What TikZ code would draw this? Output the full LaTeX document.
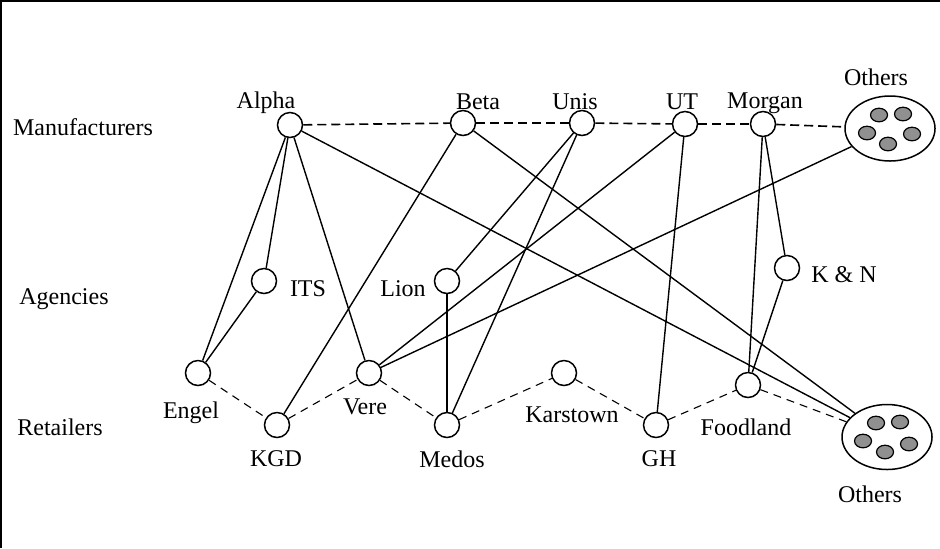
\documentclass[tikz,border=0pt]{standalone}
\usepackage{fontspec}
\setmainfont{Liberation Serif}
\usetikzlibrary{shapes.geometric}
\definecolor{memberfill}{RGB}{144,144,144}
\tikzset{
  every node/.style={font=\fontsize{12}{14}\selectfont},
  actor/.style={circle,draw,line width=0.75pt,minimum size=12.5pt,inner sep=0pt},
  group/.style={ellipse,draw,line width=0.75pt,minimum width=45pt,minimum height=32.5pt,inner sep=0pt},
  member/.style={ellipse,draw,line width=0.6pt,fill=memberfill,minimum width=8.5pt,minimum height=6.8pt,inner sep=0pt},
  lbl/.style={inner sep=0pt},
  link/.style={line width=0.7pt},
  peer/.style={line width=0.8pt,dash pattern=on 4.5pt off 2.5pt},
  chain/.style={line width=0.55pt,dash pattern=on 4pt off 3pt},
}
\begin{document}
\begin{tikzpicture}[x=0.5pt,y=-0.5pt]
\useasboundingbox (0,0) rectangle (940,548);
\draw[line width=1pt] (1,548) -- (1,1) -- (940,1);
% level labels
\node[lbl] (lm) at (83,127) {Manufacturers};
\node[lbl] (la) at (64,299) {Agencies};
\node[lbl] (lr) at (60,427) {Retailers};
% manufacturers
\node[actor] (alpha) at (290,125) {};
\node[actor] (beta) at (463,123) {};
\node[actor] (unis) at (582,123) {};
\node[actor] (ut) at (685,124) {};
\node[actor] (morgan) at (763,124) {};
\node[group] (otop) at (890,128.5) {};
\node[member] (ot1) at (879,115) {};
\node[member] (ot2) at (903,114) {};
\node[member] (ot3) at (867,133) {};
\node[member] (ot4) at (912,134) {};
\node[member] (ot5) at (888,144) {};
\node[lbl] (talpha) at (266,103) {Alpha};
\node[lbl] (tbeta) at (478,102) {Beta};
\node[lbl] (tunis) at (575,102) {Unis};
\node[lbl] (tut) at (682,102) {UT};
\node[lbl] (tmorgan) at (765,103) {Morgan};
\node[lbl] (totop) at (876,77) {Others};
% agencies
\node[actor] (its) at (264,281) {};
\node[actor] (lion) at (447,281) {};
\node[actor] (kn) at (787,268) {};
\node[lbl] (tits) at (308,289) {ITS};
\node[lbl] (tlion) at (403,289) {Lion};
\node[lbl] (tkn) at (844,275) {K \& N};
% retailers
\node[actor] (engel) at (198,373) {};
\node[actor] (kgd) at (277,425) {};
\node[actor] (vere) at (369,373) {};
\node[actor] (medos) at (447,425) {};
\node[actor] (karstown) at (564,373) {};
\node[actor] (gh) at (656,425) {};
\node[actor] (foodland) at (748,385) {};
\node[group] (obot) at (887,437) {};
\node[member] (ob1) at (876,423) {};
\node[member] (ob2) at (900,422) {};
\node[member] (ob3) at (863,441) {};
\node[member] (ob4) at (909,444) {};
\node[member] (ob5) at (885,452) {};
\node[lbl] (tengel) at (191,413) {Engel};
\node[lbl] (tkgd) at (276,459) {KGD};
\node[lbl] (tvere) at (365,407) {Vere};
\node[lbl] (tmedos) at (452,459) {Medos};
\node[lbl] (tkarstown) at (572,415) {Karstown};
\node[lbl] (tgh) at (659,459) {GH};
\node[lbl] (tfoodland) at (746,427) {Foodland};
\node[lbl] (tobot) at (870,494) {Others};
% manufacturer chain
\draw[peer] (alpha) -- (beta);
\draw[peer] (beta) -- (unis);
\draw[peer] (unis) -- (ut);
\draw[peer] (ut) -- (morgan);
\draw[peer] (morgan) -- (otop);
% retailer chain
\draw[chain] (engel) -- (kgd);
\draw[chain] (kgd) -- (vere);
\draw[chain] (vere) -- (medos);
\draw[chain] (medos) -- (karstown);
\draw[chain] (karstown) -- (gh);
\draw[chain] (gh) -- (foodland);
\draw[chain] (foodland) -- (obot);
% supply links
\draw[link] (alpha) -- (engel);
\draw[link] (alpha) -- (its);
\draw[link] (alpha) -- (vere);
\draw[link] (alpha) -- (obot);
\draw[link] (its) -- (engel);
\draw[link] (beta) -- (kgd);
\draw[link] (beta) -- (obot);
\draw[link] (unis) -- (lion);
\draw[link] (unis) -- (medos);
\draw[link] (lion) -- (medos);
\draw[link] (ut) -- (vere);
\draw[link] (ut) -- (gh);
\draw[link] (otop) -- (vere);
\draw[link] (morgan) -- (foodland);
\draw[link] (morgan) -- (kn);
\draw[link] (kn) -- (foodland);
\end{tikzpicture}
\end{document}
